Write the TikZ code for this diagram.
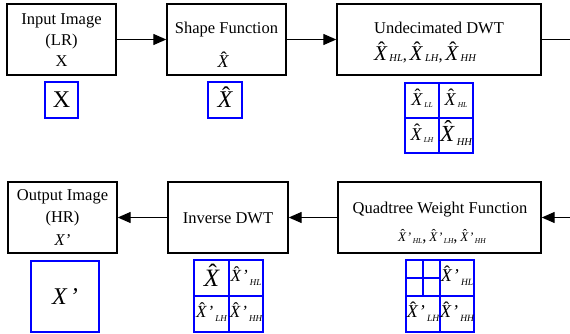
\documentclass[tikz,border=0pt]{standalone}
\usepackage{fontspec}
\setmainfont{Liberation Serif}
\usetikzlibrary{arrows.meta}
\tikzset{
  blk/.style={draw=black, line width=1.4pt, fill=white, inner sep=0pt, minimum height=71pt},
  bluebox/.style={draw=blue, line width=1.2pt, inner sep=0pt},
  lbl/.style={inner sep=0pt, anchor=base, font=\fontsize{16.5}{19}\selectfont},
  conn/.style={line width=1.3pt, -{Triangle[length=13pt,width=11pt]}},
  plain/.style={line width=1.3pt},
}
% hatted italic X, Times-like
\newcommand\hX{{\ooalign{\itshape X\cr\hidewidth\kern0.1em\raisebox{0.2em}{ˆ}\hidewidth\cr}}}
% #1 main size, #2 sub size, #3 prime (or empty), #4 subscript, #5 lowering
\newcommand\XS[5]{{\fontsize{#1}{#1}\selectfont\hX#3\kern0.12em\raisebox{-#5}{\fontsize{#2}{#2}\selectfont\itshape #4}}}
\newcommand\pr{{\itshape\kern0.06em'}}
\begin{document}
\begin{tikzpicture}[x=1pt,y=-1pt]
\useasboundingbox (0,0) rectangle (570,334);
% ---- row 1 boxes
\node[blk, minimum width=109pt] (in) at (61.5,39.5) {};
\node[blk, minimum width=119pt] (shape) at (226.5,39.5) {};
\node[blk, minimum width=204pt] (dwt) at (439,39.5) {};
% ---- row 2 boxes
\node[blk, minimum width=109pt] (out) at (62.5,217.5) {};
\node[blk, minimum width=120pt] (idwt) at (228,217.5) {};
\node[blk, minimum width=203pt] (quad) at (439.5,217.5) {};
% ---- texts row 1
\node[lbl] (in1) at (61.5,24.5) {Input Image};
\node[lbl] (in2) at (61.5,45.5) {(LR)};
\node[lbl] (in3) at (61.5,66.5) {X};
\node[lbl] (sh1) at (226.5,34) {Shape Function};
\node[lbl] (sh2) at (223,68) {\fontsize{18}{18}\selectfont\hX};
\node[lbl] (dw1) at (439,34) {Undecimated DWT};
\node[lbl] (dw2) at (425,61) {\XS{21}{10.5}{}{HL}{1pt},\,\XS{21}{10.5}{}{LH}{1pt},\,\XS{21}{10.5}{}{HH}{1pt}};
% ---- texts row 2
\node[lbl] (ou1) at (62.5,200) {Output Image};
\node[lbl] (ou2) at (62.5,222) {(HR)};
\node[lbl] (ou3) at (62.5,245) {\itshape X’};
\node[lbl] (id1) at (228,223) {Inverse DWT};
\node[lbl] (qu1) at (440,213) {Quadtree Weight Function};
\node[lbl] (qu2) at (442,241) {\XS{13}{7.5}{\pr}{HL}{2.5pt},\,\XS{13}{7.5}{\pr}{LH}{2.5pt},\,\XS{13}{7.5}{\pr}{HH}{2.5pt}};
% ---- connectors
\coordinate (r1) at (570,39.5);
\coordinate (r2) at (570,217.5);
\draw[conn] (in) -- (shape);
\draw[conn] (shape) -- (dwt);
\draw[plain] (dwt.east) -- (r1);
\draw[conn] (r2) -- (quad.east);
\draw[conn] (quad) -- (idwt);
\draw[conn] (idwt) -- (out);
% ---- small blue boxes row 1
\node[bluebox, minimum width=33pt, minimum height=36pt] (bx1) at (61.5,100) {\fontsize{24}{24}\selectfont X};
\node[bluebox, minimum width=34pt, minimum height=36pt] (bx2) at (225,100) {\fontsize{24}{24}\selectfont\hX};
\node[bluebox, minimum width=34pt, minimum height=35pt] (g1a) at (422,100.5) {\XS{18}{7.5}{}{LL}{2.5pt}};
\node[bluebox, minimum width=34pt, minimum height=35pt] (g1b) at (456,100.5) {\XS{18}{7.5}{}{HL}{2.5pt}};
\node[bluebox, minimum width=34pt, minimum height=35pt] (g1c) at (422,135.5) {\XS{18}{7.5}{}{LH}{2.5pt}};
\node[bluebox, minimum width=34pt, minimum height=35pt] (g1d) at (456,135.5) {\XS{23}{10.5}{}{HH}{4pt}};
% ---- small blue boxes row 2
\node[bluebox, minimum width=68pt, minimum height=71pt] (bx3) at (65,296.5) {\fontsize{24}{24}\selectfont\itshape X\kern0.12em'};
\node[bluebox, minimum width=35pt, minimum height=36pt] (g2a) at (211.5,278) {\fontsize{25}{25}\selectfont\hX};
\node[bluebox, minimum width=34pt, minimum height=36pt] (g2b) at (246,278) {\XS{17}{9}{\pr}{HL}{4pt}};
\node[bluebox, minimum width=35pt, minimum height=36pt] (g2c) at (211.5,314) {\XS{17}{9}{\pr}{LH}{4pt}};
\node[bluebox, minimum width=34pt, minimum height=36pt] (g2d) at (246,314) {\XS{17}{9}{\pr}{HH}{4pt}};
\node[bluebox, minimum width=17pt, minimum height=18pt] (q1) at (414.5,269) {};
\node[bluebox, minimum width=17pt, minimum height=18pt] (q2) at (431.5,269) {};
\node[bluebox, minimum width=17pt, minimum height=18pt] (q3) at (414.5,287) {};
\node[bluebox, minimum width=17pt, minimum height=18pt] (q4) at (431.5,287) {};
\node[bluebox, minimum width=34pt, minimum height=36pt] (g3b) at (457,278) {\XS{18}{9.5}{\pr}{HL}{4pt}};
\node[bluebox, minimum width=34pt, minimum height=36pt] (g3c) at (423,314) {\XS{18}{9.5}{\pr}{LH}{4pt}};
\node[bluebox, minimum width=34pt, minimum height=36pt] (g3d) at (457,314) {\XS{18}{9.5}{\pr}{HH}{4pt}};
\end{tikzpicture}
\end{document}
